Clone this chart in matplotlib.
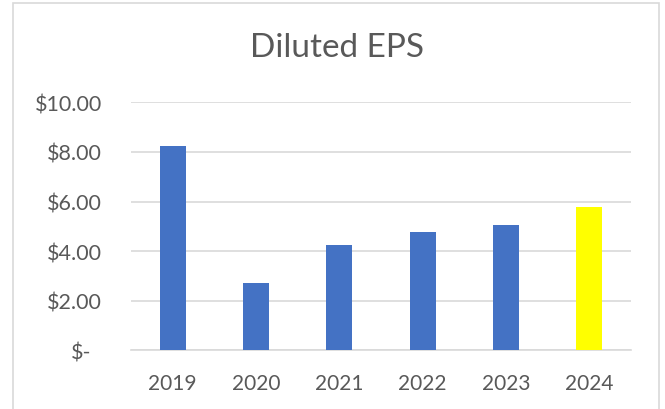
import matplotlib
matplotlib.use("Agg")
import matplotlib.pyplot as plt
from matplotlib.patches import Rectangle
from matplotlib.ticker import FuncFormatter
from matplotlib.transforms import ScaledTranslation

years = ["2019", "2020", "2021", "2022", "2023", "2024"]
eps = [8.25, 2.71, 4.26, 4.77, 5.05, 5.78]
colors = ["#4472C4", "#4472C4", "#4472C4", "#4472C4", "#4472C4", "#FFFF00"]
yticks = [0, 2, 4, 6, 8, 10]

plt.rcParams['font.family'] = ['Lato', 'DejaVu Sans']

fig = plt.figure(figsize=(6.65, 4.10), dpi=100)
fig.patch.set_facecolor("white")
# chart outer border
fig.patches.append(Rectangle((13/665, -0.05), (659-13)/665, 1.05 - 4/410,
                             transform=fig.transFigure, fill=False,
                             edgecolor="#d9d9d9", linewidth=1.2))

ax = fig.add_axes([131/665, 1-351.3/410, (631-131)/665, (351.3-103.3)/410])
x = list(range(len(years)))
ax.bar(x, eps, width=0.31, color=colors, zorder=3)
ax.set_xlim(-0.5, len(years)-0.5)
ax.set_ylim(0, 10)
ax.set_yticks(yticks)

def fmt(v, pos):
    if v == 0:
        return "$-"
    return "${:,.2f}".format(v)
ax.yaxis.set_major_formatter(FuncFormatter(fmt))
ax.set_xticks(x)
ax.set_xticklabels(years)

ax.grid(axis="y", color="#d9d9d9", linewidth=1.2, zorder=0)
for s in ["top", "right", "left"]:
    ax.spines[s].set_visible(False)
ax.spines["bottom"].set_color("#d9d9d9")
ax.spines["bottom"].set_linewidth(1.2)
ax.tick_params(axis="both", length=0, colors="#595959")
ax.tick_params(axis="y", pad=21, labelsize=15.5)
ax.tick_params(axis="x", pad=16, labelsize=15)

# shift the "$-" label left as in accounting format
lbl0 = ax.get_yticklabels()[0]
lbl0.set_transform(lbl0.get_transform() + ScaledTranslation(-0.10, 0, fig.dpi_scale_trans))

fig.text(337/665, 1-48/410, "Diluted EPS", ha="center", va="center",
         fontsize=24, color="#595959")

fig.savefig("out.png", dpi=100)
